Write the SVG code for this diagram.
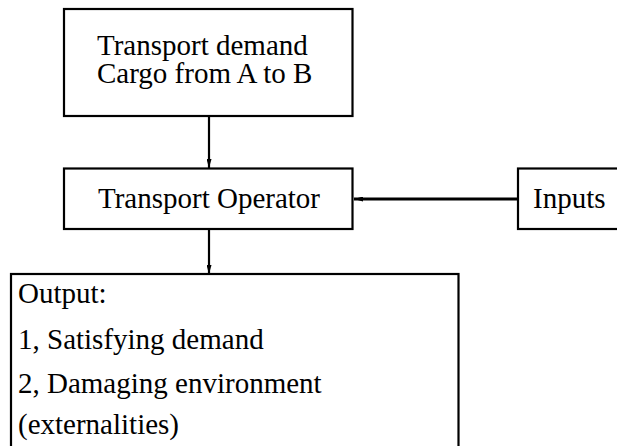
<svg xmlns="http://www.w3.org/2000/svg" width="617" height="446" viewBox="0 0 617 446">
<style>
.box{fill:#fff;stroke:#000;stroke-width:2.2}
.t{font-family:'Liberation Serif','Times New Roman',serif;font-size:29px;fill:#000}
.c{stroke:#000;fill:none}
</style>
<defs>
<marker id="ah" viewBox="0 0 9 5" refX="9" refY="2.5" markerWidth="9" markerHeight="5" markerUnits="userSpaceOnUse" orient="auto">
<path d="M0,0 L9,2.5 L0,5 Z" fill="#000"/>
</marker>
</defs>
<rect width="617" height="446" fill="#fff"/>
<g id="connectors">
<line class="c" x1="209" y1="116" x2="209" y2="168" stroke-width="2.2" marker-end="url(#ah)"/>
<line class="c" x1="209" y1="229" x2="209" y2="274" stroke-width="2.2" marker-end="url(#ah)"/>
<line class="c" x1="518" y1="199" x2="354" y2="199" stroke-width="3" marker-end="url(#ah)"/>
</g>
<g id="demand">
<rect class="box" x="64" y="9" width="288.5" height="107"/>
<text class="t" x="97" y="55">Transport demand</text>
<text class="t" x="97" y="83">Cargo from A to B</text>
</g>
<g id="operator">
<rect class="box" x="64" y="168.5" width="288.5" height="60.5"/>
<text class="t" x="98" y="208">Transport Operator</text>
</g>
<g id="inputs">
<rect class="box" x="518" y="168.5" width="110" height="60.5"/>
<text class="t" x="533" y="208">Inputs</text>
</g>
<g id="output">
<rect class="box" x="11" y="274" width="447.5" height="190"/>
<text class="t" x="18" y="303">Output:</text>
<text class="t" x="18" y="349">1, Satisfying demand</text>
<text class="t" x="18" y="392.5">2, Damaging environment</text>
<text class="t" x="18" y="434">(externalities)</text>
</g>
</svg>
